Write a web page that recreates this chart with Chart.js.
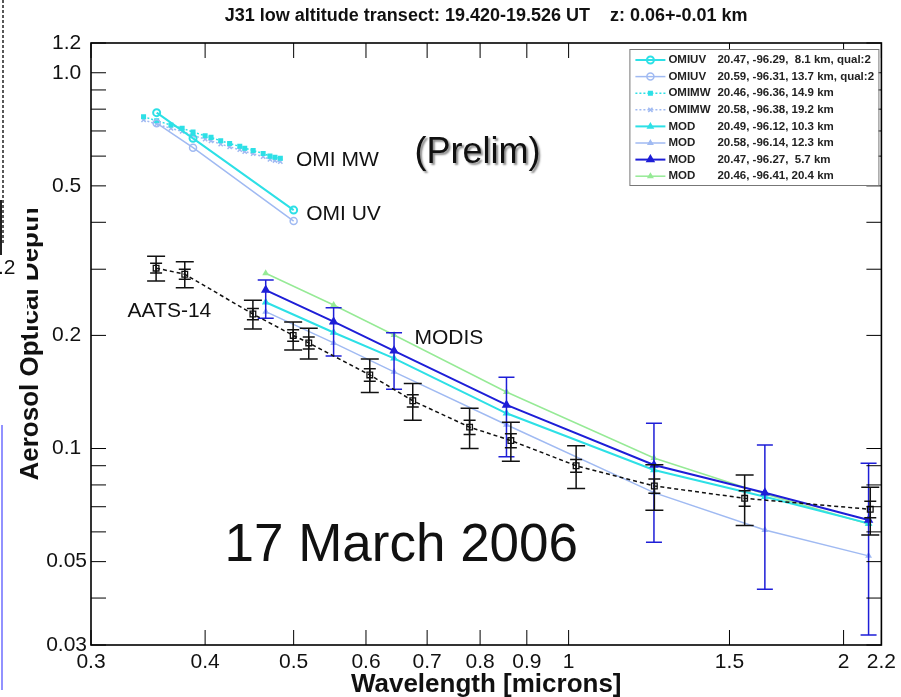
<!DOCTYPE html>
<html>
<head>
<meta charset="utf-8">
<script src="https://cdn.jsdelivr.net/npm/chart.js@4.4.1/dist/chart.umd.min.js"></script>
<style>
  html, body { margin: 0; padding: 0; background: #fff; }
  canvas { display: block; }
</style>
</head>
<body>
<canvas id="aodChart" width="901" height="697"></canvas>
<script>
// AATS-14 sunphotometer
const aatsWl = [0.3535, 0.3800, 0.4512, 0.4994, 0.5194, 0.6058, 0.6751, 0.7791, 0.8645, 1.0191, 1.2413, 1.5585, 2.1391];
const aatsAod = [0.302, 0.291, 0.228, 0.200, 0.191, 0.157, 0.134, 0.114, 0.105, 0.090, 0.0795, 0.0737, 0.0689];
const aatsErr = [0.023, 0.023, 0.020, 0.017, 0.018, 0.016, 0.015, 0.014, 0.0125, 0.0117, 0.011, 0.0113, 0.010];
const aatsErrInner = [0.009, 0.009, 0.008, 0.007, 0.007, 0.006, 0.005, 0.005, 0.0045, 0.0035, 0.0035, 0.0035, 0.0035];

// OMI UV
const omiuvWl = [0.354, 0.388, 0.500];
const omiuv81 = [0.783, 0.669, 0.431];
const omiuv137 = [0.734, 0.632, 0.403];

// OMI MW
const omimwWl = [0.3425, 0.354, 0.367, 0.3775, 0.388, 0.400, 0.406, 0.416, 0.4255, 0.4365, 0.442, 0.4515, 0.463, 0.471, 0.477, 0.4835];
const omimw149 = [0.764, 0.745, 0.726, 0.712, 0.695, 0.680, 0.673, 0.659, 0.648, 0.637, 0.630, 0.621, 0.610, 0.600, 0.596, 0.592];
const omimw192 = [0.749, 0.730, 0.711, 0.698, 0.681, 0.666, 0.659, 0.646, 0.635, 0.624, 0.617, 0.609, 0.598, 0.588, 0.584, 0.580];

// MODIS
const modWl = [0.466, 0.553, 0.644, 0.855, 1.24, 1.64, 2.13];
const mod103 = [0.245, 0.2036, 0.1738, 0.1241, 0.0877, 0.0744, 0.0632];
const mod123 = [0.2313, 0.191, 0.160, 0.1157, 0.0763, 0.0607, 0.0518];
const mod57 = [0.264, 0.2175, 0.182, 0.1306, 0.0904, 0.0763, 0.0645];
const mod57Hi = [0.281, 0.237, 0.2034, 0.1547, 0.1167, 0.1022, 0.0913];
const mod57Lo = [0.222, 0.1763, 0.1438, 0.0951, 0.0563, 0.0422, 0.0319];
const mod204 = [0.2927, 0.241, 0.2005, 0.1414, 0.0944, 0.0757, 0.063];

// axes
const xTicks = [0.3, 0.4, 0.5, 0.6, 0.7, 0.8, 0.9, 1, 1.5, 2, 2.2];
const xTickLabels = ['0.3', '0.4', '0.5', '0.6', '0.7', '0.8', '0.9', '1', '1.5', '2', '2.2'];
const yTicks = [0.03, 0.05, 0.1, 0.2, 0.5, 1.0, 1.2];
const yTickLabels = ['0.03', '0.05', '0.1', '0.2', '0.5', '1.0', '1.2'];
const yMinorTicks = [0.04, 0.06, 0.07, 0.08, 0.09, 0.3, 0.4, 0.6, 0.7, 0.8, 0.9];

const notes = [
    {text: 'OMI MW', x: 0.503, y: 0.586, size: 21},
    {text: '(Prelim)', x: 0.678, y: 0.612, size: 36, shadow: true},
    {text: 'OMI UV', x: 0.516, y: 0.421, size: 21},
    {text: 'AATS-14', x: 0.329, y: 0.232, size: 21},
    {text: 'MODIS', x: 0.678, y: 0.197, size: 21},
    {text: '17 March 2006', x: 0.420, y: 0.055, size: 53}
];

const FONT = "'Liberation Sans', Arial, sans-serif";
const CYAN = 'rgb(45, 224, 230)';
const LIGHT = 'rgb(160, 186, 242)';

function pts(xs, ys) {
    return xs.map((x, i) => ({x: x, y: ys[i]}));
}

const aodChart = document.getElementById('aodChart');

const errorBars = {
    id: 'errorBars',
    afterDatasetDraw(chart, args) {
        const ds = chart.data.datasets[args.index];
        if (!ds.errHi && !ds.errOuter) return;
        const ctx = chart.ctx, xs = chart.scales.x, ys = chart.scales.y;
        ctx.save();
        ctx.strokeStyle = ds.errColor;
        ctx.lineWidth = 1.5;
        ds.data.forEach((p, i) => {
            const px = xs.getPixelForValue(p.x);
            let bars;
            if (ds.errHi) {
                bars = [[ds.errLo[i], ds.errHi[i], 8]];
            } else {
                bars = [[p.y - ds.errOuter[i], p.y + ds.errOuter[i], 9],
                        [p.y - ds.errInner[i], p.y + ds.errInner[i], 6]];
            }
            bars.forEach(([lo, hi, w]) => {
                const y1 = ys.getPixelForValue(lo), y2 = ys.getPixelForValue(hi);
                ctx.beginPath();
                ctx.moveTo(px, y1); ctx.lineTo(px, y2);
                ctx.moveTo(px - w, y1); ctx.lineTo(px + w, y1);
                ctx.moveTo(px - w, y2); ctx.lineTo(px + w, y2);
                ctx.stroke();
            });
        });
        ctx.restore();
    }
};

const frameTicks = {
    id: 'frameTicks',
    afterDatasetsDraw(chart) {
        const {ctx, chartArea: a, scales: {x, y}} = chart;
        const tl = 15;
        ctx.save();
        ctx.strokeStyle = '#000';
        ctx.lineWidth = 1;
        ctx.beginPath();
        xTicks.forEach(v => {
            const px = x.getPixelForValue(v);
            ctx.moveTo(px, a.bottom); ctx.lineTo(px, a.bottom - tl);
            ctx.moveTo(px, a.top); ctx.lineTo(px, a.top + tl);
        });
        yTicks.concat(yMinorTicks).forEach(v => {
            const py = y.getPixelForValue(v);
            ctx.moveTo(a.left, py); ctx.lineTo(a.left + tl, py);
            ctx.moveTo(a.right, py); ctx.lineTo(a.right - tl, py);
        });
        ctx.stroke();
        ctx.lineWidth = 1.6;
        ctx.strokeRect(a.left, a.top, a.right - a.left, a.bottom - a.top);
        ctx.restore();
    }
};

const boxLegend = {
    id: 'boxLegend',
    afterDraw(chart) {
        const {ctx, chartArea: a} = chart;
        const items = chart.data.datasets.filter(ds => ds.legendName)
            .sort((p, q) => p.legendOrder - q.legendOrder);
        const w = 249, rowH = 16.6;
        const left = a.right - 252, top = a.top + 6;
        ctx.save();
        ctx.fillStyle = '#fff';
        ctx.fillRect(left, top, w, 136);
        ctx.strokeStyle = '#777';
        ctx.lineWidth = 1;
        ctx.strokeRect(left + 0.5, top + 0.5, w, 136);
        items.forEach((ds, i) => {
            const cy = top + 11 + i * rowH;
            ctx.strokeStyle = ds.borderColor;
            ctx.lineWidth = ds.borderWidth;
            ctx.setLineDash(ds.borderDash || []);
            ctx.beginPath();
            ctx.moveTo(left + 6, cy); ctx.lineTo(left + 36, cy);
            ctx.stroke();
            ctx.setLineDash([]);
            ctx.fillStyle = ds.pointBackgroundColor;
            ctx.strokeStyle = ds.pointBorderColor;
            Chart.helpers.drawPoint(ctx, {pointStyle: ds.pointStyle, rotation: 0, radius: ds.pointRadius, borderWidth: 1}, left + 21, cy);
            ctx.fillStyle = '#222';
            ctx.font = 'bold 11.5px ' + FONT;
            ctx.textBaseline = 'middle';
            ctx.textAlign = 'left';
            ctx.fillText(ds.legendName, left + 39, cy);
            ctx.fillText(ds.legendInfo, left + 88, cy);
        });
        ctx.restore();
    }
};

const notesPlugin = {
    id: 'notes',
    afterDraw(chart) {
        const {ctx, scales: {x, y}} = chart;
        ctx.save();
        ctx.fillStyle = '#111';
        ctx.textBaseline = 'middle';
        ctx.textAlign = 'left';
        notes.forEach(n => {
            ctx.font = n.size + 'px ' + FONT;
            if (n.shadow) {
                ctx.shadowColor = 'rgba(0,0,0,0.45)';
                ctx.shadowOffsetX = 2;
                ctx.shadowOffsetY = 2;
                ctx.shadowBlur = 2;
            } else {
                ctx.shadowColor = 'transparent';
            }
            ctx.fillText(n.text, x.getPixelForValue(n.x), y.getPixelForValue(n.y));
        });
        ctx.restore();
    }
};

// leftovers of the slide the plot was cut from
const slideEdge = {
    id: 'slideEdge',
    afterDraw(chart) {
        const ctx = chart.ctx;
        ctx.save();
        ctx.fillStyle = '#fff';
        ctx.fillRect(0, 0, 27, 335);
        ctx.strokeStyle = '#222';
        ctx.lineWidth = 1.5;
        ctx.setLineDash([3, 2]);
        ctx.beginPath();
        ctx.moveTo(3, 0); ctx.lineTo(3, 245);
        ctx.stroke();
        ctx.setLineDash([]);
        ctx.lineWidth = 2;
        ctx.beginPath();
        ctx.moveTo(1, 200); ctx.lineTo(1, 255);
        ctx.stroke();
        ctx.strokeStyle = 'rgb(110, 110, 255)';
        ctx.lineWidth = 1.5;
        ctx.beginPath();
        ctx.moveTo(2, 425); ctx.lineTo(2, 690);
        ctx.stroke();
        ctx.fillStyle = '#111';
        ctx.font = '21px ' + FONT;
        ctx.textBaseline = 'middle';
        ctx.fillText('.2', -2, 268);
        ctx.restore();
    }
};

const blank = 'rgba(255,255,255,0)';

new Chart(aodChart, {
    type: 'line',
    data: {
        datasets: [{
            label: 'AATS-14',
            data: pts(aatsWl, aatsAod),
            borderColor: '#111',
            borderWidth: 1.5,
            borderDash: [4, 3],
            pointStyle: 'rect',
            pointRadius: 4,
            pointBorderWidth: 1.3,
            pointBackgroundColor: blank,
            pointBorderColor: '#111',
            errOuter: aatsErr,
            errInner: aatsErrInner,
            errColor: '#111'
        }, {
            label: 'MOD 5.7',
            legendName: 'MOD', legendInfo: '20.47, -96.27,  5.7 km', legendOrder: 7,
            data: pts(modWl, mod57),
            borderColor: 'rgb(30, 30, 215)',
            borderWidth: 2,
            pointStyle: 'triangle',
            pointRadius: 3.5,
            pointBackgroundColor: 'rgb(30, 30, 215)',
            pointBorderColor: 'rgb(30, 30, 215)',
            errHi: mod57Hi,
            errLo: mod57Lo,
            errColor: 'rgb(30, 30, 215)'
        }, {
            label: 'MOD 10.3',
            legendName: 'MOD', legendInfo: '20.49, -96.12, 10.3 km', legendOrder: 5,
            data: pts(modWl, mod103),
            borderColor: CYAN,
            borderWidth: 2,
            pointStyle: 'triangle',
            pointRadius: 2.5,
            pointBackgroundColor: CYAN,
            pointBorderColor: CYAN
        }, {
            label: 'MOD 12.3',
            legendName: 'MOD', legendInfo: '20.58, -96.14, 12.3 km', legendOrder: 6,
            data: pts(modWl, mod123),
            borderColor: LIGHT,
            borderWidth: 1.5,
            pointStyle: 'triangle',
            pointRadius: 2.5,
            pointBackgroundColor: LIGHT,
            pointBorderColor: LIGHT
        }, {
            label: 'MOD 20.4',
            legendName: 'MOD', legendInfo: '20.46, -96.41, 20.4 km', legendOrder: 8,
            data: pts(modWl, mod204),
            borderColor: 'rgb(150, 234, 150)',
            borderWidth: 1.5,
            pointStyle: 'triangle',
            pointRadius: 2.5,
            pointBackgroundColor: 'rgb(150, 234, 150)',
            pointBorderColor: 'rgb(150, 234, 150)'
        }, {
            label: 'OMIUV 8.1',
            legendName: 'OMIUV', legendInfo: '20.47, -96.29,  8.1 km, qual:2', legendOrder: 1,
            data: pts(omiuvWl, omiuv81),
            borderColor: CYAN,
            borderWidth: 2,
            pointStyle: 'circle',
            pointRadius: 3.5,
            pointBackgroundColor: blank,
            pointBorderColor: CYAN
        }, {
            label: 'OMIUV 13.7',
            legendName: 'OMIUV', legendInfo: '20.59, -96.31, 13.7 km, qual:2', legendOrder: 2,
            data: pts(omiuvWl, omiuv137),
            borderColor: LIGHT,
            borderWidth: 1.5,
            pointStyle: 'circle',
            pointRadius: 3.5,
            pointBackgroundColor: blank,
            pointBorderColor: LIGHT
        }, {
            label: 'OMIMW 14.9',
            legendName: 'OMIMW', legendInfo: '20.46, -96.36, 14.9 km', legendOrder: 3,
            data: pts(omimwWl, omimw149),
            borderColor: CYAN,
            borderWidth: 1.5,
            borderDash: [2, 2],
            pointStyle: 'rect',
            pointRadius: 2.5,
            pointBackgroundColor: CYAN,
            pointBorderColor: CYAN
        }, {
            label: 'OMIMW 19.2',
            legendName: 'OMIMW', legendInfo: '20.58, -96.38, 19.2 km', legendOrder: 4,
            data: pts(omimwWl, omimw192),
            borderColor: LIGHT,
            borderWidth: 1.5,
            borderDash: [2, 2],
            pointStyle: 'crossRot',
            pointRadius: 3,
            pointBackgroundColor: LIGHT,
            pointBorderColor: LIGHT
        }]
    },
    options: {
        responsive: false,
        animation: false,
        devicePixelRatio: 1,
        layout: {padding: {left: 0, right: 16, top: 0, bottom: 0}},
        plugins: {
            legend: {display: false},
            tooltip: {enabled: false},
            title: {
                display: true,
                fullSize: false,
                text: 'J31 low altitude transect: 19.420-19.526 UT    z: 0.06+-0.01 km',
                color: '#111',
                font: {family: FONT, size: 18, weight: 'bold', lineHeight: 1},
                padding: {top: 7, bottom: 18}
            }
        },
        scales: {
            x: {
                type: 'logarithmic',
                min: 0.3,
                max: 2.2,
                border: {display: false},
                grid: {display: false, drawTicks: false},
                afterBuildTicks: s => { s.ticks = xTicks.map(v => ({value: v})); },
                afterFit: s => { s.height = 52; },
                ticks: {
                    autoSkip: false,
                    maxRotation: 0,
                    padding: 5,
                    color: '#111',
                    font: {family: FONT, size: 21},
                    callback: (v, i) => xTickLabels[i]
                },
                title: {
                    display: true,
                    text: 'Wavelength [microns]',
                    color: '#111',
                    font: {family: FONT, size: 26, weight: 'bold', lineHeight: 1},
                    padding: {top: 0, bottom: -1}
                }
            },
            y: {
                type: 'logarithmic',
                min: 0.03,
                max: 1.2,
                border: {display: false},
                grid: {display: false, drawTicks: false},
                afterBuildTicks: s => { s.ticks = yTicks.map(v => ({value: v})); },
                afterFit: s => { s.width = 91; },
                ticks: {
                    autoSkip: false,
                    crossAlign: 'center',
                    padding: 4,
                    color: '#111',
                    font: {family: FONT, size: 21},
                    callback: (v, i) => yTickLabels[i]
                },
                title: {
                    display: true,
                    text: 'Aerosol Optical Depth',
                    color: '#111',
                    font: {family: FONT, size: 26, weight: 'bold', lineHeight: 1},
                    padding: {top: 18, bottom: 0}
                }
            }
        }
    },
    plugins: [errorBars, frameTicks, boxLegend, notesPlugin, slideEdge]
});
</script>
</body>
</html>
